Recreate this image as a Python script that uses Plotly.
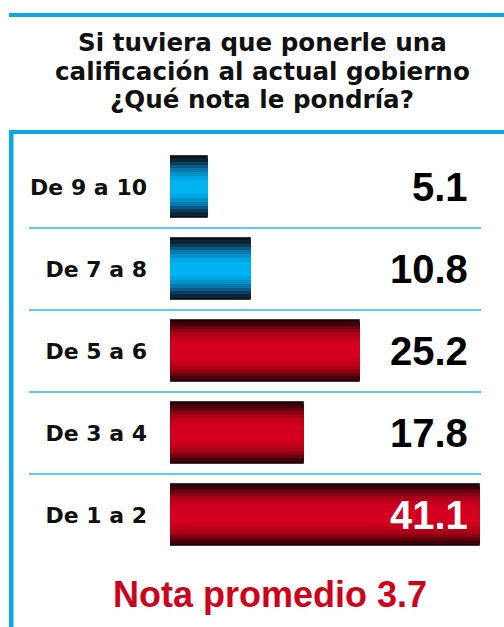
import plotly.graph_objects as go

# ---- data ----
categories = ["De 9 a 10", "De 7 a 8", "De 5 a 6", "De 3 a 4", "De 1 a 2"]
values = [5.1, 10.8, 25.2, 17.8, 41.1]
value_labels = ["5.1", "10.8", "25.2", "17.8", "41.1"]
groups = ["alta", "alta", "baja", "baja", "baja"]
title_lines = ["Si tuviera que ponerle una",
               "calificación al actual gobierno",
               "¿Qué nota le pondría?"]
footer_text = "Nota promedio 3.7"

# ---- layout geometry ----
W, H = 504, 627
ML, MR, MT, MB = 170, 0, 146, 71
PW, PH = W - ML - MR, H - MT - MB
XMAX = 44.3


def xp(px):
    return (px - ML) / PW


def yp(py):
    return (H - MB - py) / PH


# gradient layers: (relative width, blue colour, red colour) outer -> inner
layers = [
    (1.00, "#0a131a", "#220205"),
    (0.92, "#0a2638", "#44000a"),
    (0.82, "#0a3d5c", "#680010"),
    (0.71, "#095a86", "#8c0014"),
    (0.60, "#0778ad", "#aa0018"),
    (0.48, "#0292cc", "#c0001b"),
    (0.36, "#00a6e3", "#cc001d"),
    (0.22, "#00b4f2", "#d5001f"),
]
BAR_W = 0.756

fig = go.Figure()
for i, (f, cblue, cred) in enumerate(layers):
    cols = [cblue if g == "alta" else cred for g in groups]
    fig.add_trace(go.Bar(
        x=values, y=categories, orientation="h",
        width=BAR_W * f,
        marker=dict(color=cols,
                    line=dict(color="#3a3a3a" if i == 0 else "rgba(0,0,0,0)",
                              width=1 if i == 0 else 0)),
        hoverinfo="skip", showlegend=False,
    ))

annotations = []
# value labels
for c, v, lab in zip(categories, values, value_labels):
    inside = ML + v * PW / XMAX > 395
    annotations.append(dict(
        x=xp(470), xref="paper", y=c, yref="y", xanchor="right", yanchor="middle",
        text="<b>%s</b>" % lab, showarrow=False,
        font=dict(family="Liberation Sans, Arial, sans-serif", size=40,
                  color="white" if inside else "black")))

# title lines
for ln, py in zip(title_lines, [42, 71, 100]):
    annotations.append(dict(
        x=xp(262), xref="paper", y=yp(py), yref="paper",
        xanchor="center", yanchor="middle", text="<b>%s</b>" % ln, showarrow=False,
        font=dict(family="DejaVu Sans, sans-serif", size=24.6, color="#111111")))

# footer
annotations.append(dict(
    x=xp(270), xref="paper", y=yp(594.5), yref="paper",
    xanchor="center", yanchor="middle", text="<b>%s</b>" % footer_text, showarrow=False,
    font=dict(family="Liberation Sans, Arial, sans-serif", size=36, color="#d0021b")))

BLUE = "#0ea5e4"
shapes = [
    # top rule
    dict(type="rect", xref="paper", yref="paper", x0=xp(9), x1=xp(504),
         y0=yp(17), y1=yp(13), fillcolor=BLUE, line=dict(width=0), layer="above"),
    # box top
    dict(type="rect", xref="paper", yref="paper", x0=xp(9), x1=xp(504),
         y0=yp(134), y1=yp(130), fillcolor=BLUE, line=dict(width=0), layer="above"),
    # box left
    dict(type="rect", xref="paper", yref="paper", x0=xp(9), x1=xp(13.5),
         y0=yp(627), y1=yp(130), fillcolor=BLUE, line=dict(width=0), layer="above"),
]
# separators between categories
for k in range(len(categories) - 1):
    shapes.append(dict(type="line", xref="paper", yref="y", x0=xp(29), x1=xp(481),
                       y0=k + 0.5, y1=k + 0.5, line=dict(color="#5ec9f3", width=2)))

fig.update_layout(
    width=W, height=H, autosize=False,
    margin=dict(l=ML, r=MR, t=MT, b=MB, pad=0),
    paper_bgcolor="white", plot_bgcolor="white",
    barmode="overlay", bargap=0,
    xaxis=dict(range=[0, XMAX], autorange=False, visible=False, fixedrange=True),
    yaxis=dict(categoryorder="array", categoryarray=categories,
               autorange="reversed", showgrid=False, zeroline=False,
               showline=False, ticks="", ticklabelstandoff=22,
               tickfont=dict(family="DejaVu Sans, sans-serif", size=22, color="#111111"),
               tickprefix="<b>", ticksuffix="</b>", fixedrange=True),
    annotations=annotations, shapes=shapes,
)

fig.write_html("out.html", config={"displayModeBar": False},
               post_script="document.body.style.margin='0';document.body.style.overflow='hidden';")
